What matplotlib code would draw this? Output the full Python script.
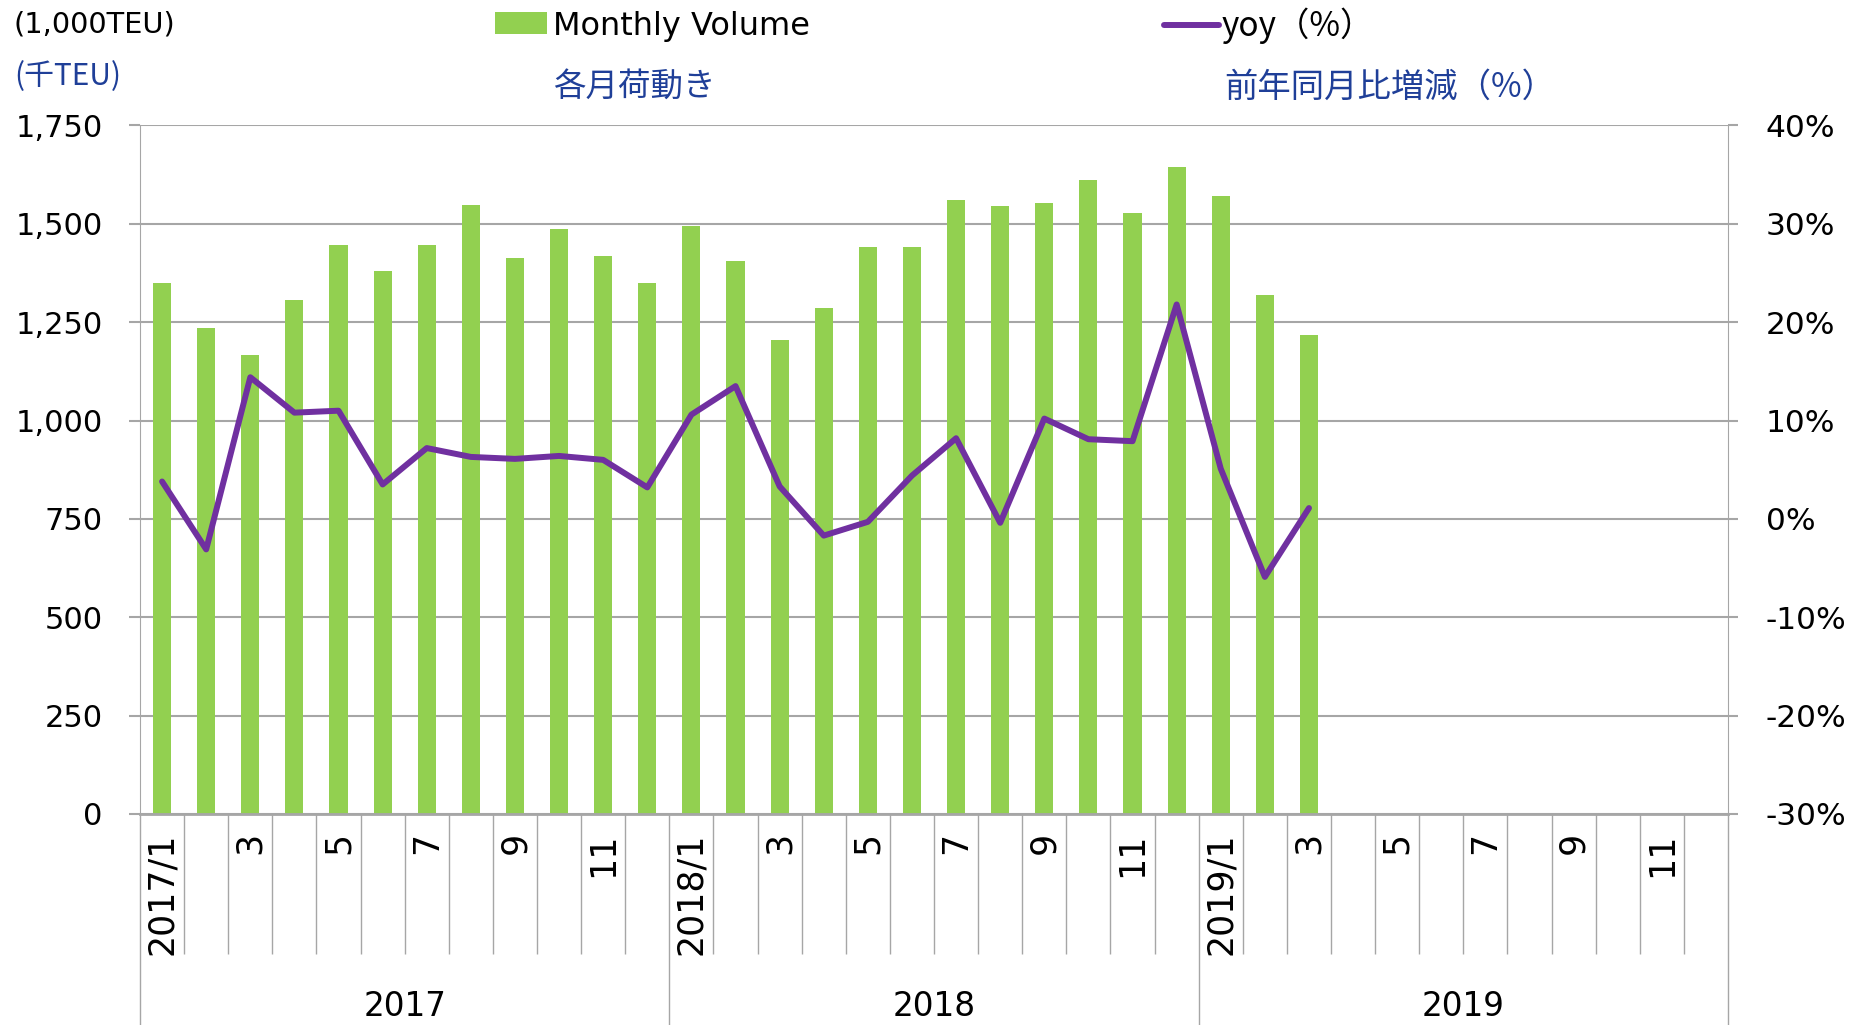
import matplotlib.pyplot as plt
import matplotlib.transforms as mtransforms
import numpy as np

plt.rcParams['font.family'] = ['DejaVu Sans']
cjk = ['Noto Sans CJK JP', 'DejaVu Sans']

# data (1,000 TEU and yoy %)
years = ['2017', '2018', '2019']
month_labels = ['2017/1', '', '3', '', '5', '', '7', '', '9', '', '11', '',
                '2018/1', '', '3', '', '5', '', '7', '', '9', '', '11', '',
                '2019/1', '', '3', '', '5', '', '7', '', '9', '', '11', '']
volume = [1349, 1234, 1167, 1307, 1445, 1380, 1445, 1548, 1412, 1487, 1417, 1350,
          1495, 1405, 1204, 1287, 1440, 1440, 1561, 1545, 1553, 1611, 1528, 1644,
          1571, 1320, 1217]
yoy = [3.8, -3.1, 14.4, 10.8, 11.0, 3.5, 7.2, 6.3, 6.1, 6.4, 6.0, 3.2,
       10.6, 13.5, 3.3, -1.7, -0.3, 4.4, 8.2, -0.4, 10.2, 8.1, 7.9, 21.8,
       5.1, -5.9, 1.1]

green = '#92D050'
purple = '#7030A0'
blue = '#1F3F98'
gray = '#A6A6A6'

fig = plt.figure(figsize=(18.72, 10.25), dpi=100)
ax = fig.add_axes([0.0748, 0.2059, 0.8483, 0.6717])

x = np.arange(len(month_labels))
bars = ax.bar(x[:len(volume)], volume, width=0.41, color=green, zorder=2)
ax.set_xlim(-0.5, len(month_labels) - 0.5)
ax.set_ylim(0, 1750)
ax.set_yticks(np.arange(0, 1751, 250))
ax.set_yticklabels([f'{v:,}' for v in range(0, 1751, 250)])
ax.set_axisbelow(True)
ax.yaxis.grid(True, color=gray, lw=1.5)
ax.tick_params(axis='y', direction='out', length=8, width=1.5, color=gray,
               pad=19, labelsize=22)

# month labels + separators
ax.set_xticks(x)
ax.set_xticklabels(month_labels, rotation=90, fontsize=25)
ax.tick_params(axis='x', which='major', length=0, pad=13)
year_edges = np.arange(-0.5, len(month_labels), 12)
month_edges = [b for b in np.arange(0.5, len(month_labels) - 1, 1) if b not in year_edges]
ax.set_xticks(month_edges, minor=True)
ax.tick_params(axis='x', which='minor', length=101, width=1, color=gray)

sec = ax.secondary_xaxis('bottom')
sec.set_xticks(year_edges)
sec.set_xticklabels([])
sec.tick_params(length=152, width=1, color=gray)
sec.spines['bottom'].set_visible(False)

trans = mtransforms.blended_transform_factory(ax.transData, ax.transAxes)
for i, yr in enumerate(years):
    ax.text(i * 12 + 5.5, -0.279, yr, transform=trans, ha='center', va='center', fontsize=23.5)

for s in ['top', 'right']:
    ax.spines[s].set_visible(False)
ax.spines['left'].set_color(gray)
ax.spines['bottom'].set_color(gray)
ax.spines['bottom'].set_linewidth(2)

ax2 = ax.twinx()
line, = ax2.plot(x[:len(yoy)], yoy, color=purple, lw=4.3, solid_joinstyle='round',
                 solid_capstyle='round', zorder=3)
ax2.set_ylim(-30, 40)
ax2.set_yticks(np.arange(-30, 41, 10))
ax2.set_yticklabels([f'{v}%' for v in range(-30, 41, 10)])
ax2.tick_params(axis='y', direction='out', length=7, width=1.5, color=gray,
                pad=20, labelsize=22.5)
for s in ['top', 'left', 'bottom']:
    ax2.spines[s].set_visible(False)
ax2.spines['right'].set_color(gray)

# legends
fig.legend(handles=[bars], labels=['Monthly Volume'], loc='center left',
           bbox_to_anchor=(495 / 1872, 1 - 26 / 1025), frameon=False, fontsize=23,
           handlelength=1.62, handleheight=0.67, handletextpad=0.2,
           borderpad=0, borderaxespad=0)
fig.legend(handles=[line], labels=['yoy（%）'], loc='center left',
           bbox_to_anchor=(1164 / 1872, 1 - 26 / 1025), frameon=False,
           prop={'family': cjk, 'size': 24},
           handlelength=1.64, handletextpad=0.08, borderpad=0, borderaxespad=0)

fig.text(14 / 1872, 1 - 24 / 1025, '(1,000TEU)', fontsize=20.8, va='center')
fig.text(14 / 1872, 1 - 77 / 1025, '(千TEU)', family=cjk, color=blue, fontsize=21.5, va='center')
fig.text(553 / 1872, 1 - 87 / 1025, '各月荷動き', family=cjk, color=blue, fontsize=23.4, va='center')
fig.text(1224 / 1872, 1 - 87 / 1025, '前年同月比増減（%）', family=cjk, color=blue,
         fontsize=24, va='center')

fig.savefig('out.png', dpi=100)
